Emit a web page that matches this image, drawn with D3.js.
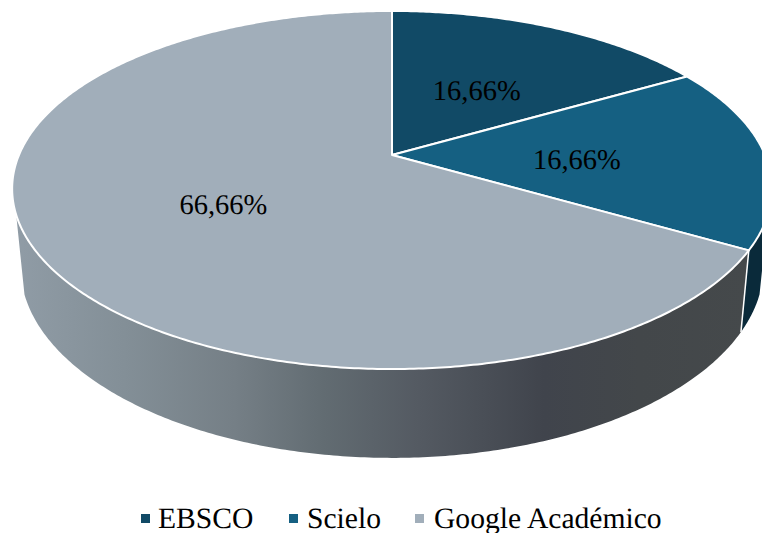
<!DOCTYPE html>
<html>
<head>
<meta charset="utf-8">
<script src="https://cdn.jsdelivr.net/npm/d3@7"></script>
<style>
  html, body { margin: 0; padding: 0; background: #fff; overflow: hidden; }
  text { font-family: "Liberation Serif", "Times New Roman", serif; fill: #000; text-rendering: geometricPrecision; }
</style>
</head>
<body>
<script>
// Data
var categories = ["EBSCO", "Scielo", "Google Académico"];
var values = [16.66, 16.66, 66.66];
var labels = ["16,66%", "16,66%", "66,66%"];
var colors = ["#114a66", "#156082", "#a1aeba"];

var width = 762, height = 533;

var svg = d3.select("body").append("svg")
    .attr("width", width)
    .attr("height", height)
    .style("display", "block");

// Perspective of the tilted disc: apex of the slices and projection constants
var cx = 392, cy = 155, A = 373, B = 172.2, kx = 0.189, ky = 0.1955;
// Bottom rim is the top rim shifted down and rescaled
var bottomX = 0.978, bottomY = 1.06, drop = 76;

function project(angle, r) {
    var u = r * Math.sin(angle), v = -r * Math.cos(angle);
    return [cx + A * u / (1 - kx * v), cy + B * v / (1 - ky * v)];
}
function projectBottom(angle) {
    var p = project(angle, 1);
    return [cx + bottomX * (p[0] - cx), cy + drop + bottomY * (p[1] - cy)];
}
function arcPoints(fn, a0, a1) {
    var n = Math.max(2, Math.ceil(Math.abs(a1 - a0) / 0.01));
    return d3.range(n + 1).map(i => fn(a0 + (a1 - a0) * i / n, 1));
}
var line = d3.line();

var pie = d3.pie().sort(null).value(d => d);
var slices = pie(values);
var color = d3.scaleOrdinal().domain(d3.range(categories.length)).range(colors);

// Side wall silhouette angles
var deg = Math.PI / 180;
var rightEdge = 109 * deg, leftEdge = 251 * deg;

// Gradient for the big wall
var defs = svg.append("defs");
var grad = defs.append("linearGradient")
    .attr("id", "wallGrad")
    .attr("gradientUnits", "userSpaceOnUse")
    .attr("x1", 14).attr("x2", 750).attr("y1", 0).attr("y2", 0);
[[0, "#909ca6"], [0.15, "#838f97"], [0.3, "#757f86"], [0.42, "#626c72"],
 [0.55, "#545a62"], [0.72, "#40444c"], [0.85, "#43474a"], [1, "#45494b"]].forEach(s => {
    grad.append("stop").attr("offset", s[0]).attr("stop-color", s[1]);
});

function wall(a0, a1) {
    return line(arcPoints(project, a0, a1).concat(arcPoints(projectBottom, a1, a0))) + "Z";
}

// Walls
var split = slices[2].startAngle;
svg.append("path")
    .attr("d", wall(rightEdge, split))
    .attr("fill", "#0a2a3a");
svg.append("path")
    .attr("d", wall(split, leftEdge))
    .attr("fill", "url(#wallGrad)");
svg.append("path")
    .attr("d", line([project(split, 1), projectBottom(split)]))
    .attr("fill", "none")
    .attr("stroke", "#fff")
    .attr("stroke-width", 1.5);

// Top slices
svg.selectAll("path.slice")
    .data(slices)
    .enter()
    .append("path")
    .attr("class", "slice")
    .attr("d", d => line([[cx, cy]].concat(arcPoints(project, d.startAngle, d.endAngle))) + "Z")
    .attr("fill", (d, i) => color(i))
    .attr("stroke", "#fff")
    .attr("stroke-width", 2)
    .attr("stroke-linejoin", "round");

// Data labels, nudged off the slice middle the way the original sits
var labelRadius = [0.475, 0.494, 0.507];
var labelTurn = [1, 2.7, -2.2];
function labelPoint(d, i) {
    return project((d.startAngle + d.endAngle) / 2 + labelTurn[i] * deg, labelRadius[i]);
}
svg.selectAll("text.value")
    .data(slices)
    .enter()
    .append("text")
    .attr("class", "value")
    .attr("x", (d, i) => labelPoint(d, i)[0])
    .attr("y", (d, i) => labelPoint(d, i)[1] + 10)
    .attr("text-anchor", "middle")
    .attr("font-size", 28.5)
    .text((d, i) => labels[i]);

// Legend
var legendX = d3.scaleOrdinal().domain(categories).range([141, 289, 415]);
var legendText = d3.scaleOrdinal().domain(categories).range([158, 307, 434]);
var legend = svg.selectAll("g.legend")
    .data(categories)
    .enter()
    .append("g")
    .attr("class", "legend");
legend.append("rect")
    .attr("x", d => legendX(d)).attr("y", 514)
    .attr("width", 9).attr("height", 9)
    .attr("fill", (d, i) => color(i));
legend.append("text")
    .attr("x", d => legendText(d)).attr("y", 527.5)
    .attr("font-size", 29.6)
    .text(d => d);
</script>
</body>
</html>
